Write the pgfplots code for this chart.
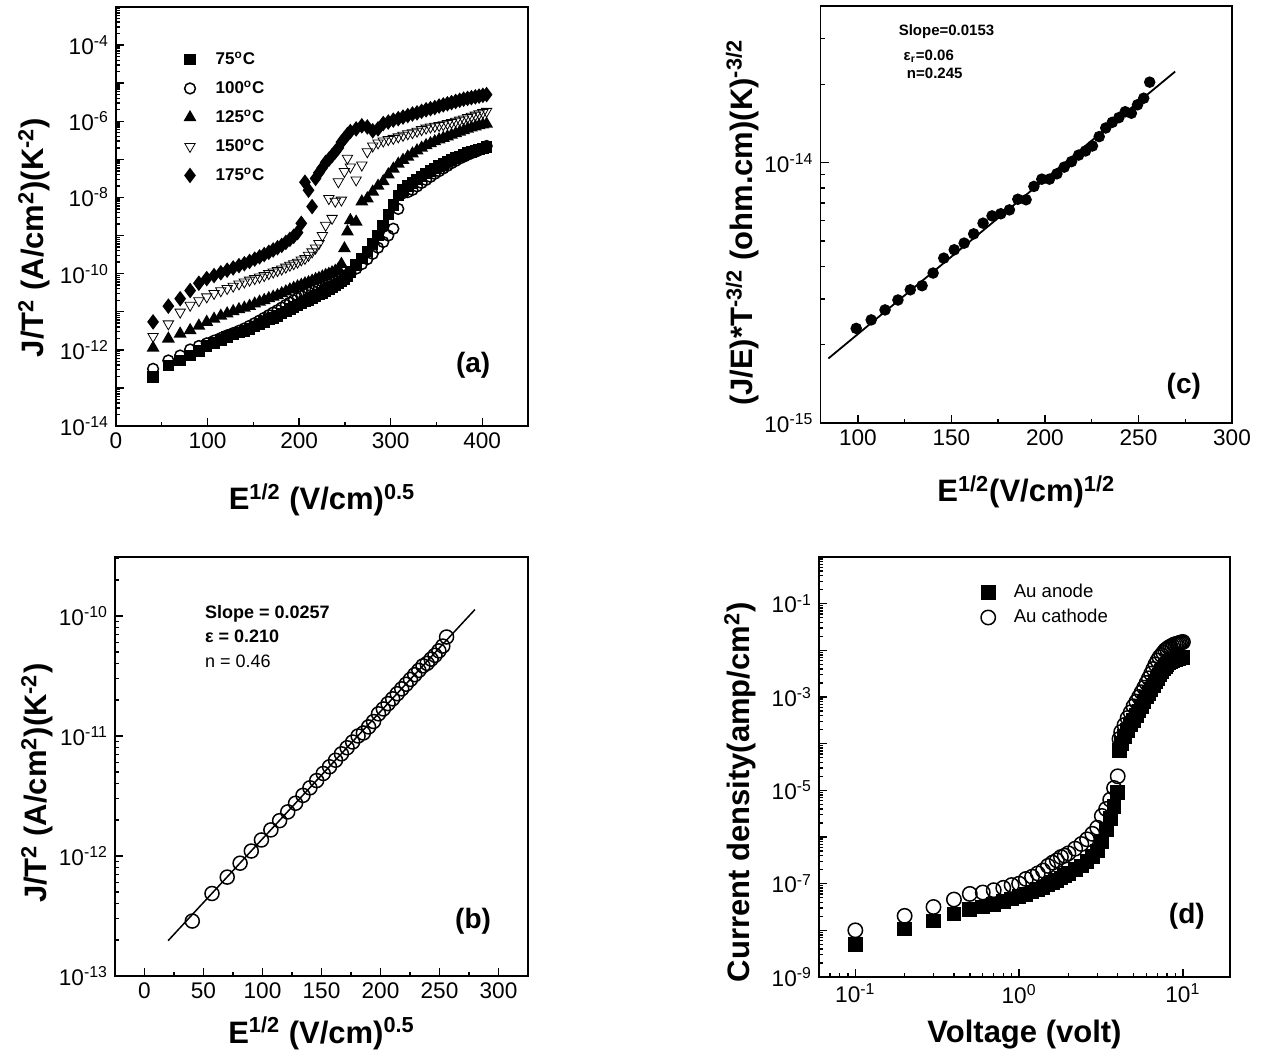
\documentclass[border=0pt]{standalone}
\usepackage{fontspec}
\setmainfont{Liberation Sans}
\usepackage{pgfplots}
\pgfplotsset{compat=1.18}
\usepackage{pgfplotstable}

% minor log ticks 2..9 within one decade
\newcommand\decminor[1]{2e#1,3e#1,4e#1,5e#1,6e#1,7e#1,8e#1,9e#1}

% (a) J/T^2 against E^{1/2} at five temperatures
\pgfplotstableread{
x t75 t100 t125 t150 t175
40.5 1.91e-13 3.16e-13 1.12e-12 2.24e-12 5.4e-12
57.2 3.89e-13 5.25e-13 1.95e-12 4.79e-12 1.4e-11
70.1 5.25e-13 7.08e-13 2.63e-12 9.77e-12 2.2e-11
81.0 7.08e-13 1.02e-12 3.24e-12 1.48e-11 3.6e-11
90.5 9.33e-13 1.26e-12 4.27e-12 1.95e-11 5.6e-11
99.1 1.26e-12 1.48e-12 5.37e-12 2.45e-11 7.4e-11
107.1 1.51e-12 1.74e-12 6.46e-12 3.02e-11 8.9e-11
114.5 1.82e-12 2.04e-12 7.76e-12 3.55e-11 1.05e-10
121.4 2.14e-12 2.40e-12 8.91e-12 4.07e-11 1.23e-10
128.0 2.51e-12 2.75e-12 1.02e-11 4.68e-11 1.41e-10
134.3 2.82e-12 3.16e-12 1.15e-11 5.37e-11 1.62e-10
140.2 3.16e-12 3.63e-12 1.26e-11 6.03e-11 1.82e-10
145.9 3.55e-12 4.27e-12 1.41e-11 6.76e-11 2.09e-10
151.5 4.07e-12 5.01e-12 1.62e-11 7.41e-11 2.40e-10
156.8 4.68e-12 5.89e-12 1.82e-11 8.13e-11 2.75e-10
161.9 5.37e-12 6.92e-12 2.00e-11 8.91e-11 3.16e-10
166.9 6.17e-12 8.13e-12 2.24e-11 1.00e-10 3.63e-10
171.7 6.92e-12 9.55e-12 2.45e-11 1.10e-10 4.17e-10
176.4 7.76e-12 1.10e-11 2.69e-11 1.20e-10 4.79e-10
181.0 8.91e-12 1.29e-11 3.02e-11 1.32e-10 5.50e-10
185.5 1.02e-11 1.51e-11 3.39e-11 1.48e-10 6.61e-10
189.9 1.17e-11 1.74e-11 3.80e-11 1.66e-10 7.94e-10
194.1 1.32e-11 2.00e-11 4.17e-11 1.82e-10 9.55e-10
198.3 1.48e-11 2.29e-11 4.57e-11 2.00e-10 1.20e-9
202.4 1.66e-11 2.57e-11 5.01e-11 2.29e-10 2.09e-9
206.4 1.86e-11 2.88e-11 5.50e-11 2.51e-10 2.51e-8
210.3 2.04e-11 3.24e-11 5.89e-11 3.02e-10 1.55e-8
214.2 2.29e-11 3.55e-11 6.46e-11 3.72e-10 5.75e-9
218.0 2.57e-11 3.89e-11 7.08e-11 4.68e-10 3.16e-8
221.7 2.82e-11 4.17e-11 7.59e-11 6.17e-10 4.47e-8
225.4 3.09e-11 4.47e-11 8.32e-11 1.00e-9 6.03e-8
229.0 3.47e-11 4.79e-11 9.12e-11 1.86e-9 8.32e-8
232.5 3.89e-11 5.25e-11 9.77e-11 9.33e-9 1.00e-7
236.0 4.37e-11 5.75e-11 1.07e-10 2.82e-9 1.26e-7
239.5 4.90e-11 6.31e-11 1.17e-10 7.94e-9 1.58e-7
242.9 5.50e-11 6.92e-11 1.32e-10 2.57e-8 2.00e-7
246.2 6.17e-11 7.59e-11 1.78e-10 8.51e-9 2.82e-7
249.5 7.08e-11 8.51e-11 4.57e-10 4.79e-8 3.55e-7
252.8 8.71e-11 9.55e-11 1.26e-9 1.07e-7 4.47e-7
256.0 1.10e-10 1.07e-10 2.51e-9 6.31e-8 5.37e-7
262.3 1.66e-10 1.35e-10 2.29e-9 2.88e-8 6.31e-7
268.5 2.51e-10 1.78e-10 7.76e-9 7.08e-8 7.59e-7
274.5 3.80e-10 2.40e-10 9.33e-9 1.58e-7 7.08e-7
280.4 6.03e-10 3.31e-10 1.41e-8 2.24e-7 5.62e-7
286.2 1.00e-9 4.79e-10 2.00e-8 2.69e-7 6.31e-7
291.9 1.86e-9 6.76e-10 2.63e-8 3.02e-7 8.71e-7
297.4 3.55e-9 1.00e-9 3.98e-8 3.31e-7 9.55e-7
302.9 6.31e-9 1.51e-9 5.62e-8 3.55e-7 1.07e-6
308.3 1.12e-8 5.01e-9 7.59e-8 3.89e-7 1.17e-6
313.5 1.58e-8 1.29e-8 9.55e-8 4.27e-7 1.29e-6
318.7 2.00e-8 1.38e-8 1.17e-7 4.68e-7 1.41e-6
323.8 2.40e-8 1.58e-8 1.41e-7 5.01e-7 1.55e-6
328.8 2.95e-8 1.95e-8 1.70e-7 5.50e-7 1.66e-6
333.8 3.55e-8 2.40e-8 2.00e-7 6.03e-7 1.82e-6
338.7 4.27e-8 2.88e-8 2.34e-7 6.61e-7 2.00e-6
343.5 5.01e-8 3.47e-8 2.63e-7 7.08e-7 2.14e-6
348.2 5.75e-8 4.17e-8 2.95e-7 7.41e-7 2.29e-6
352.9 6.61e-8 4.90e-8 3.31e-7 7.76e-7 2.51e-6
357.5 7.59e-8 5.75e-8 3.63e-7 8.13e-7 2.69e-6
362.0 8.71e-8 6.76e-8 3.98e-7 8.71e-7 2.88e-6
366.5 9.77e-8 7.94e-8 4.37e-7 9.33e-7 3.09e-6
371.0 1.10e-7 9.12e-8 4.79e-7 1.00e-6 3.31e-6
375.4 1.20e-7 1.05e-7 5.25e-7 1.07e-6 3.55e-6
379.7 1.32e-7 1.17e-7 5.75e-7 1.15e-6 3.80e-6
384.0 1.45e-7 1.32e-7 6.31e-7 1.26e-6 3.98e-6
388.2 1.58e-7 1.45e-7 6.76e-7 1.35e-6 4.17e-6
392.5 1.70e-7 1.58e-7 7.24e-7 1.45e-6 4.37e-6
396.6 1.82e-7 1.74e-7 7.76e-7 1.58e-6 4.57e-6
400.7 1.95e-7 1.91e-7 8.13e-7 1.70e-6 4.79e-6
404.8 2.09e-7 2.24e-7 8.51e-7 1.82e-6 5.01e-6
}\tempdata

% (b) Schottky plot
\pgfplotstableread{
x y
40.5 2.87e-13
57.2 4.87e-13
70.1 6.67e-13
81.0 8.71e-13
90.5 1.10e-12
99.1 1.36e-12
107.1 1.65e-12
114.5 1.97e-12
121.4 2.33e-12
128.0 2.75e-12
134.3 3.20e-12
140.2 3.70e-12
145.9 4.25e-12
151.5 4.87e-12
156.8 5.54e-12
161.9 6.28e-12
166.9 7.10e-12
171.7 7.98e-12
176.4 8.91e-12
181.0 1.00e-11
185.5 1.06e-11
189.9 1.19e-11
194.1 1.32e-11
198.3 1.53e-11
202.4 1.68e-11
206.4 1.86e-11
210.3 2.04e-11
214.2 2.25e-11
218.0 2.47e-11
221.7 2.70e-11
225.4 2.96e-11
229.0 3.24e-11
232.5 3.52e-11
236.0 3.84e-11
239.5 4.03e-11
242.9 4.37e-11
246.2 4.70e-11
249.5 5.12e-11
252.8 5.61e-11
256.0 6.68e-11
}\schottky

% (c) Poole-Frenkel plot
\pgfplotstableread{
x y
99.1 2.31e-15
107.1 2.49e-15
114.5 2.72e-15
121.4 2.97e-15
128.0 3.25e-15
134.3 3.37e-15
140.2 3.77e-15
145.9 4.30e-15
151.5 4.63e-15
156.8 4.91e-15
161.9 5.33e-15
166.9 5.86e-15
171.7 6.25e-15
176.4 6.37e-15
181.0 6.59e-15
185.5 7.24e-15
189.9 7.21e-15
194.1 8.11e-15
198.3 8.65e-15
202.4 8.65e-15
206.4 9.07e-15
210.3 9.62e-15
214.2 1.01e-14
218.0 1.07e-14
221.7 1.11e-14
225.4 1.16e-14
229.0 1.26e-14
232.5 1.36e-14
236.0 1.43e-14
239.5 1.49e-14
242.9 1.57e-14
246.2 1.55e-14
249.5 1.67e-14
252.8 1.77e-14
256.0 2.04e-14
}\poole

% (d) J-V for both polarities
\pgfplotstableread{
v anode cathode
0.1 4.90e-9 1.0e-8
0.2 1.07e-8 2.04e-8
0.3 1.58e-8 3.16e-8
0.4 2.24e-8 4.57e-8
0.5 2.82e-8 6.03e-8
0.6 3.16e-8 6.46e-8
0.7 3.63e-8 7.24e-8
0.8 4.17e-8 8.13e-8
0.9 4.68e-8 9.33e-8
1.0 5.25e-8 1.0e-7
1.1 5.89e-8 1.26e-7
1.2 6.61e-8 1.41e-7
1.3 7.41e-8 1.66e-7
1.4 8.32e-8 1.91e-7
1.5 9.33e-8 2.40e-7
1.6 1.05e-7 2.82e-7
1.7 1.17e-7 3.16e-7
1.8 1.32e-7 3.72e-7
1.9 1.48e-7 3.98e-7
2.0 1.66e-7 4.47e-7
2.2 2.00e-7 5.62e-7
2.4 2.40e-7 7.08e-7
2.6 3.02e-7 8.91e-7
2.8 3.80e-7 1.17e-6
3.0 5.01e-7 1.58e-6
3.2 7.94e-7 2.82e-6
3.4 1.41e-6 3.98e-6
3.6 2.51e-6 6.31e-6
3.8 4.47e-6 1.12e-5
4.0 8.91e-6 2.00e-5
4.1 7.08e-5 1.26e-4
4.2 1.00e-4 1.78e-4
4.4 1.41e-4 2.51e-4
4.6 1.91e-4 3.55e-4
4.8 2.51e-4 4.68e-4
5.0 3.16e-4 6.31e-4
5.2 3.98e-4 7.94e-4
5.4 5.01e-4 1.00e-3
5.6 6.31e-4 1.26e-3
5.8 7.94e-4 1.58e-3
6.0 1.00e-3 2.00e-3
6.2 1.20e-3 2.51e-3
6.4 1.45e-3 3.16e-3
6.6 1.74e-3 3.98e-3
6.8 2.09e-3 5.01e-3
7.0 2.51e-3 6.03e-3
7.2 2.95e-3 7.08e-3
7.4 3.47e-3 7.94e-3
7.6 3.98e-3 8.91e-3
7.8 4.47e-3 1.00e-2
8.0 5.01e-3 1.07e-2
8.2 5.37e-3 1.15e-2
8.4 5.75e-3 1.20e-2
8.6 6.03e-3 1.26e-2
8.8 6.31e-3 1.32e-2
9.0 6.46e-3 1.35e-2
9.2 6.61e-3 1.38e-2
9.4 6.76e-3 1.41e-2
9.6 6.92e-3 1.45e-2
9.8 7.08e-3 1.48e-2
10.0 7.08e-3 1.51e-2
}\jv

\pgfplotsset{
  panel/.style={
    scale only axis,
    axis line style={line width=0.9pt},
    tick align=inside,
    tick pos=left,
    major tick length=4pt,
    minor tick length=2.2pt,
    every tick/.append style={line width=0.7pt, black},
    tick label style={font=\fontsize{11.3}{13}\selectfont},
    /pgf/number format/assume math mode=true,
    label style={font=\fontsize{15.5}{18}\selectfont\bfseries},
    legend image code/.code={\path[draw=none,fill=none] (0pt,0pt) -- (17pt,0pt); \draw[##1] plot coordinates {(5.7pt,0pt)};},
  },
  mk/.style={only marks, mark options={line width=0.75pt, draw=black}},
}

\begin{document}
\begin{tikzpicture}
\useasboundingbox (0pt,0pt) rectangle (633pt,526.5pt);

% ---------- (a) ----------
\begin{axis}[panel,
  at={(58pt,313.5pt)}, anchor=south west,
  width=206pt, height=209.5pt,
  xmin=0, xmax=450, ymode=log, ymin=1e-14, ymax=1e-3,
  xtick={0,100,...,400}, minor x tick num=1,
  ytick={1e-14,1e-13,1e-12,1e-11,1e-10,1e-9,1e-8,1e-7,1e-6,1e-5,1e-4,1e-3},
  yticklabels={10\textsuperscript{-14},{},10\textsuperscript{-12},{},10\textsuperscript{-10},{},10\textsuperscript{-8},{},10\textsuperscript{-6},{},10\textsuperscript{-4},{}},
  minor ytick/.expanded={\decminor{-14},\decminor{-13},\decminor{-12},\decminor{-11},\decminor{-10},\decminor{-9},\decminor{-8},\decminor{-7},\decminor{-6},\decminor{-5},\decminor{-4}},
  xlabel={E\textsuperscript{1/2} (V/cm)\textsuperscript{0.5}},
  ylabel={J/T\textsuperscript{2} (A/cm\textsuperscript{2})(K\textsuperscript{-2})},
  xlabel style={at={(axis description cs:0.5,-0.2)}, anchor=base},
  ylabel style={at={(axis description cs:-0.175,0.45)}, anchor=base},
  legend style={at={(axis description cs:0.151,0.902)}, anchor=north west,
    draw=none, fill=none, inner sep=0pt, row sep=3.5pt,
    font=\fontsize{8.5}{10}\selectfont\bfseries,
    nodes={inner sep=1.5pt, text height=6.5pt, text depth=1.5pt}},
  legend cell align=left,
]
\addplot[mk, mark=square*, mark size=2.5pt, fill=black] table[x=x, y=t75] {\tempdata};
\addlegendentry{75\textsuperscript{o}C}
\addplot[mk, mark=o, mark size=2.7pt] table[x=x, y=t100] {\tempdata};
\addlegendentry{100\textsuperscript{o}C}
\addplot[mk, mark=triangle*, mark size=3pt, fill=black] table[x=x, y=t125] {\tempdata};
\addlegendentry{125\textsuperscript{o}C}
\addplot[mk, mark=triangle, mark size=3pt, mark options={rotate=180}] table[x=x, y=t150] {\tempdata};
\addlegendentry{150\textsuperscript{o}C}
\addplot[mk, mark=diamond*, mark size=3.3pt, fill=black] table[x=x, y=t175] {\tempdata};
\addlegendentry{175\textsuperscript{o}C}
\node[font=\fontsize{14}{16}\selectfont\bfseries] at (axis description cs:0.867,0.146) {(a)};
\end{axis}

% ---------- (c) ----------
\begin{axis}[panel,
  at={(410.25pt,315pt)}, anchor=south west,
  width=205.75pt, height=208.5pt,
  xmin=80, xmax=300, ymode=log, ymin=1e-15, ymax=4e-14,
  xtick={100,150,...,300}, minor x tick num=1,
  ytick={1e-15,1e-14},
  yticklabels={10\textsuperscript{-15},10\textsuperscript{-14}},
  minor ytick/.expanded={\decminor{-15},2e-14,3e-14},
  xlabel={E\textsuperscript{1/2}(V/cm)\textsuperscript{1/2}},
  ylabel={(J/E)*T\textsuperscript{-3/2} (ohm.cm)(K)\textsuperscript{-3/2}},
  xlabel style={at={(axis description cs:0.5,-0.189)}, anchor=base},
  ylabel style={at={(axis description cs:-0.166,0.48)}, anchor=base},
]
\addplot[black, line width=0.9pt] coordinates {(84.2,1.77e-15) (269.6,2.24e-14)};
\addplot[mk, mark=*, mark size=2.5pt, fill=black] table[x=x, y=y] {\poole};
\node[anchor=base west, font=\fontsize{7.5}{9}\selectfont\bfseries] at (axis description cs:0.173,0.930) {Slope=0.0153};
\node[anchor=base west, font=\fontsize{7.5}{9}\selectfont\bfseries] at (axis description cs:0.185,0.870) {ε\textsubscript{r}=0.06};
\node[anchor=base west, font=\fontsize{7.5}{9}\selectfont\bfseries] at (axis description cs:0.193,0.827) {n=0.245};
\node[font=\fontsize{14}{16}\selectfont\bfseries] at (axis description cs:0.883,0.089) {(c)};
\end{axis}

% ---------- (b) ----------
\begin{axis}[panel,
  at={(57.5pt,38.5pt)}, anchor=south west,
  width=206.5pt, height=209.5pt,
  xmin=-25, xmax=325, ymode=log, ymin=1e-13, ymax=3.1e-10,
  xtick={0,50,...,300}, minor x tick num=1,
  ytick={1e-13,1e-12,1e-11,1e-10},
  yticklabels={10\textsuperscript{-13},10\textsuperscript{-12},10\textsuperscript{-11},10\textsuperscript{-10}},
  minor ytick/.expanded={\decminor{-13},\decminor{-12},\decminor{-11},2e-10,3e-10},
  xlabel={E\textsuperscript{1/2} (V/cm)\textsuperscript{0.5}},
  ylabel={J/T\textsuperscript{2} (A/cm\textsuperscript{2})(K\textsuperscript{-2})},
  xlabel style={at={(axis description cs:0.5,-0.16)}, anchor=base},
  ylabel style={at={(axis description cs:-0.165,0.46)}, anchor=base},
]
\addplot[black, line width=0.75pt] coordinates {(20,1.97e-13) (280,1.13e-10)};
\addplot[mk, mark=o, mark size=3.5pt] table[x=x, y=y] {\schottky};
\node[anchor=base west, font=\fontsize{9}{11}\selectfont\bfseries] at (axis description cs:0.201,0.854) {Slope = 0.0257};
\node[anchor=base west, font=\fontsize{9}{11}\selectfont\bfseries] at (axis description cs:0.201,0.797) {ε = 0.210};
\node[anchor=base west, font=\fontsize{9}{11}\selectfont] at (axis description cs:0.201,0.737) {n = 0.46};
\node[font=\fontsize{14}{16}\selectfont\bfseries] at (axis description cs:0.867,0.131) {(b)};
\end{axis}

% ---------- (d) ----------
\begin{axis}[panel,
  at={(409.5pt,38pt)}, anchor=south west,
  width=205.5pt, height=210pt,
  xmode=log, xmin=0.06, xmax=19.4, ymode=log, ymin=1e-9, ymax=1,
  xtick={0.1,1,10},
  xticklabels={10\textsuperscript{-1},10\textsuperscript{0},10\textsuperscript{1}},
  minor xtick/.expanded={0.07,0.08,0.09,\decminor{-1},\decminor{0}},
  ytick={1e-9,1e-8,1e-7,1e-6,1e-5,1e-4,1e-3,1e-2,1e-1,1},
  yticklabels={10\textsuperscript{-9},{},10\textsuperscript{-7},{},10\textsuperscript{-5},{},10\textsuperscript{-3},{},10\textsuperscript{-1},{}},
  minor ytick/.expanded={\decminor{-9},\decminor{-8},\decminor{-7},\decminor{-6},\decminor{-5},\decminor{-4},\decminor{-3},\decminor{-2},\decminor{-1}},
  xlabel={Voltage (volt)},
  ylabel={Current density(amp/cm\textsuperscript{2})},
  xlabel style={at={(axis description cs:0.5,-0.156)}, anchor=base},
  ylabel style={at={(axis description cs:-0.168,0.44)}, anchor=base},
  legend style={at={(axis description cs:0.383,0.945)}, anchor=north west,
    draw=none, fill=none, inner sep=0pt, row sep=0.5pt,
    font=\fontsize{9.3}{11}\selectfont,
    nodes={inner sep=1.5pt, text height=7pt, text depth=2pt}},
  legend cell align=left,
]
\addplot[mk, mark=square*, mark size=3.3pt, fill=black] table[x=v, y=anode] {\jv};
\addlegendentry{Au anode}
\addplot[mk, mark=o, mark size=3.6pt] table[x=v, y=cathode] {\jv};
\addlegendentry{Au cathode}
\node[font=\fontsize{14}{16}\selectfont\bfseries] at (axis description cs:0.895,0.145) {(d)};
\end{axis}
\end{tikzpicture}
\end{document}
